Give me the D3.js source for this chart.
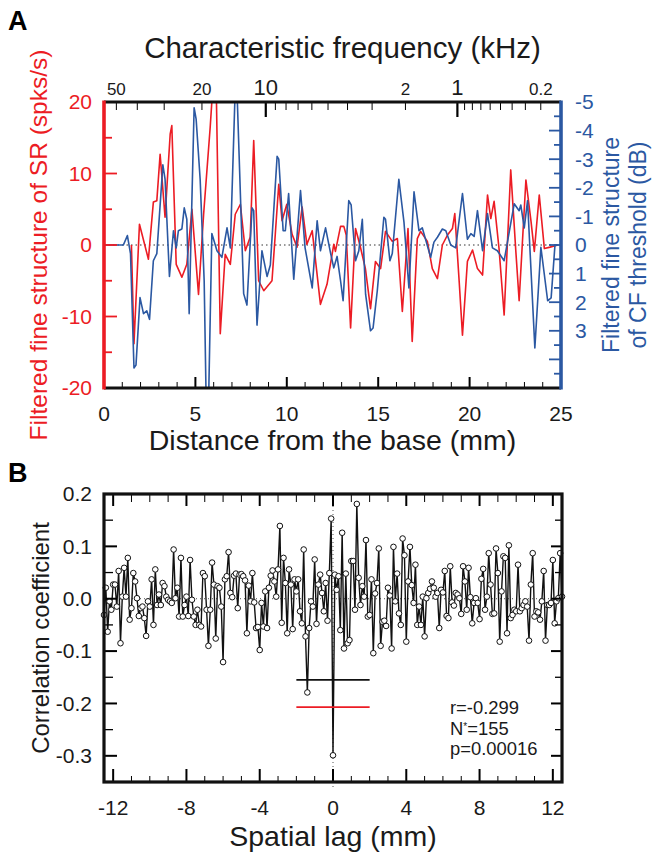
<!DOCTYPE html>
<html><head><meta charset="utf-8">
<script src="https://cdn.jsdelivr.net/npm/d3@7"></script>
<style>body{margin:0;background:#fff}svg text{font-family:"Liberation Sans",Arial,Helvetica,sans-serif}</style>
</head><body><svg id="c" width="656" height="853"></svg>
<script>
// ---------- Panel A data ----------
const redMm  = [1.50,1.64,1.94,2.43,2.70,2.89,3.07,3.34,3.62,3.71,3.95,4.26,4.53,4.81,5.17,5.45,5.81,6.00,6.14,6.36,6.63,6.91,7.18,7.46,7.73,8.00,8.19,8.46,8.74,9.19,9.37,9.56,9.74,10.0,10.29,10.56,10.84,11.1,11.39,11.84,12.2,12.57,12.66,12.94,13.12,13.25,13.49,13.76,14.0,14.3,14.58,14.85,15.13,15.4,15.77,16.05,16.32,16.63,16.86,17.14,17.32,17.69,17.96,18.24,18.51,18.79,19.06,19.19,19.43,19.61,19.88,20.16,20.43,20.71,20.98,21.16,21.34,21.61,21.89,22.25,22.53,22.71,23.08,23.36,23.54,23.81,24.09,24.4,24.82];
const redVal = [0,-13.8,2.9,-2.0,6.0,6.2,12.7,3.9,15.5,16.7,-2.7,-4.5,-2.7,5.0,-6.9,4.3,16.5,24,22,-12.4,-1.3,-2.7,4.3,5.7,-0.8,1.1,14.6,-5.0,-6.4,-5.0,1.5,8.5,3.4,5.7,1.5,-0.3,5.3,0.1,2.0,-8.3,-5.5,0.1,-0.9,2.6,2.6,1.4,-11.6,2.3,0,-3.3,-8.9,-2.3,-3.3,1.9,0.5,0.9,-9.3,2.3,-13.5,0.9,1.9,0.5,-3.3,-4.7,0,1.4,2.3,4.4,-5.1,-12.6,-2.3,-0.7,-3.3,-4.2,7.0,3.7,6.1,-0.5,-9.8,10.5,-0.9,-7.8,9.1,3.3,-0.9,7.0,-0.5,-0.3,0];
const blueMm = [0,1.06,1.28,1.45,1.64,1.75,1.97,2.16,2.34,2.49,2.70,2.89,3.22,3.34,3.58,3.80,3.95,4.07,4.26,4.39,4.53,4.66,4.93,5.04,5.26,5.48,5.59,5.72,5.90,6.18,6.45,6.73,6.91,7.18,7.27,7.64,7.82,8.1,8.19,8.37,8.64,8.92,9.1,9.47,9.56,9.80,9.92,10.1,10.38,10.75,11.0,11.39,11.66,11.84,12.12,12.4,12.57,12.75,12.94,13.08,13.39,13.52,13.76,13.94,14.13,14.31,14.58,14.72,14.95,15.31,15.4,15.64,15.77,16.13,16.41,16.68,16.96,17.23,17.41,17.87,18.05,18.24,18.51,18.7,18.97,19.24,19.61,19.88,20.07,20.25,20.43,20.71,20.98,21.25,21.52,21.89,22.44,22.71,22.8,22.99,23.17,23.57,23.9,24.27,24.46,24.67,24.82];
const blueDb = [0,0,-0.33,0.3,4.3,4.2,1.84,2.4,2.3,2.6,0.55,0.3,-2.8,-2.3,1.1,-0.5,0.1,-0.5,-0.56,-1.3,-0.9,2.4,-4.8,-4.4,-2.3,1.25,5.5,5.5,-0.4,0.2,0.43,-0.6,0.1,-5.5,-5.5,1.7,2.1,-1.3,-1.2,2.8,0.2,1.1,0.7,-3.1,-3.0,-0.5,-0.5,-1.8,1.2,-1.9,0.1,1.5,-0.85,0.2,-0.6,0.3,0.8,0.4,1.25,1.95,-1.55,-1.4,0.55,0.2,-0.9,1.72,3.0,2.9,1.6,-0.97,-0.9,0.55,0.3,-2.3,-0.8,1.5,-1.86,-0.5,-0.6,0.43,-0.1,-0.27,-0.56,-0.5,0,0.1,-1.8,-0.2,-0.4,-0.3,-1.2,0.2,-1.1,0.1,0.2,0.55,-1.44,-1.2,-1.4,-0.6,-1.55,3.6,0.08,1.95,1.85,0,0];
const distTicks = [0,5,10,15,20,25];
const redTicks  = [20,10,0,-10,-20];
const blueTicks = [-5,-4,-3,-2,-1,0,1,2,3];
const freqMajor = [10,1];
const freqMinor = [50,40,30,20,9,8,7,6,5,4,3,2,0.9,0.8,0.7,0.6,0.5,0.4,0.3,0.2];
const freqSmallLabels = [50,20,2,0.2];

// ---------- Panel B data ----------
const lagStart = -12.5, lagStep = 0.1;
const corrLeft = [-0.031,0.021,-0.063,-0.005,-0.021,0.027,0.027,-0.015,0.053,-0.085,
0.004,0.059,0.004,0.078,-0.040,-0.018,0.049,0.033,0.001,-0.033,
-0.018,-0.015,-0.037,-0.071,-0.005,-0.015,0.037,-0.050,0.056,-0.012,
0.008,-0.012,0.030,0.024,0.004,-0.002,-0.005,-0.008,0.094,0.001,
0.021,-0.034,0.078,-0.034,-0.012,0.004,-0.033,0.074,-0.002,-0.034,
-0.050,-0.021,-0.050,-0.053,0.049,0.043,-0.021,-0.090,-0.021,0.069,
0.027,-0.076,0.024,0.021,-0.015,-0.121,0.037,0.043,0.089,0.011,
0.003,0.044,0.048,-0.018,0.046,0.047,0.043,0.035,-0.066,0.025,
-0.005,0.049,-0.007,-0.056,-0.054,-0.098,-0.008,-0.053,0.014,-0.056,
0.021,0.044,0.054,0.033,0.004,0.056,0.139,-0.046,0.078,0.030,
-0.066,0.056,0.027,-0.058,0.037,0.014,0.037,-0.024,-0.047,0.094,
-0.072,-0.179,-0.056,-0.005,-0.015,0.075,-0.048,0.027,0.046,0.011,
-0.024,0.030,-0.042,0.049,0.153];
const corrZero = -0.299;
const corrRight = [0.046,0.017,0.043,-0.060,0.126,-0.095,0.048,-0.085,-0.079,0.072,
0.072,-0.021,0.181,0.040,-0.012,0.024,0.004,0.112,-0.034,-0.031,
0.037,-0.104,0.010,0.030,0.096,-0.090,-0.044,-0.042,-0.052,0.021,
0.006,-0.095,0.099,-0.005,0.048,-0.028,-0.050,0.115,0.083,-0.082,
0.033,0.099,0.026,-0.008,0.065,-0.050,-0.015,-0.050,0.004,-0.072,
0.001,0.011,0.019,0.033,0.021,0.004,0.011,-0.056,0.017,0.012,
0.053,-0.033,-0.037,0.062,-0.007,-0.013,0.011,0.008,0.001,-0.029,
0.062,0.033,-0.021,0.059,0.003,-0.047,-0.008,0.001,-0.008,-0.039,
0.038,0.057,-0.021,0.004,0.087,0.027,-0.029,-0.028,0.096,0.049,
-0.082,0.014,0.081,0.078,-0.066,0.102,-0.037,-0.031,-0.021,-0.024,
0.065,-0.024,-0.018,-0.012,-0.005,-0.015,-0.080,0.027,0.087,-0.034,
-0.024,-0.026,-0.040,-0.005,0.053,-0.080,-0.012,-0.012,-0.008,0.074,
-0.047,-0.005,0.001,0.087,0.004];
const lagTicks  = [-12,-8,-4,0,4,8,12];
const corrTicks = [0.2,0.1,0,-0.1,-0.2,-0.3];
const ciLag = [-2,2];
const ciBlack = -0.155, ciRed = -0.207;
const statsLines = ["r=-0.299","N*=155","p=0.00016"];

// ---------- drawing ----------
const svg = d3.select("#c");
const RED = "#ec1c24", BLUE = "#2b58a2", TXT = "#1a1a1a";

// ===== Panel A =====
const A = {l:104, r:561, t:102, b:388};
const x = d3.scaleLinear([0,25],[A.l,A.r]);
const yR = d3.scaleLinear([-20,20],[A.b,A.t]);
const yB = d3.scaleLinear([5,-5],[A.b,A.t]);
const gw = f => 25*(1 - Math.log10(f/0.456 + 0.8)/2.1); // Greenwood map (cat)

svg.append("defs").append("clipPath").attr("id","clipA")
  .append("rect").attr("x",A.l).attr("y",A.t).attr("width",A.r-A.l).attr("height",A.b-A.t);

svg.append("line").attr("x1",A.l).attr("x2",A.r).attr("y1",yR(0)).attr("y2",yR(0))
  .attr("stroke","#333").attr("stroke-width",1).attr("stroke-dasharray","1.5,3");

const gA = svg.append("g").attr("clip-path","url(#clipA)");
gA.append("path").attr("d", d3.line().x(d=>x(d[0])).y(d=>yR(d[1]))(d3.zip(redMm,redVal)))
  .attr("fill","none").attr("stroke",RED).attr("stroke-width",1.6).attr("stroke-linejoin","round");
gA.append("path").attr("d", d3.line().x(d=>x(d[0])).y(d=>yB(d[1]))(d3.zip(blueMm,blueDb)))
  .attr("fill","none").attr("stroke",BLUE).attr("stroke-width",1.6).attr("stroke-linejoin","round");

// bottom ticks
d3.range(0,26).forEach(v=>{
  const L = v%5===0 ? 11 : 6;
  svg.append("line").attr("x1",x(v)).attr("x2",x(v)).attr("y1",A.b).attr("y2",A.b-L)
    .attr("stroke","#000").attr("stroke-width",v%5===0?2:1);
});
// top ticks
freqMinor.forEach(f=>{
  svg.append("line").attr("x1",x(gw(f))).attr("x2",x(gw(f))).attr("y1",A.t).attr("y2",A.t+8)
    .attr("stroke","#000").attr("stroke-width",1);
});
freqMajor.forEach(f=>{
  svg.append("line").attr("x1",x(gw(f))).attr("x2",x(gw(f))).attr("y1",A.t).attr("y2",A.t+15)
    .attr("stroke","#000").attr("stroke-width",2.2);
});
// left red ticks
d3.range(-20,21,5).forEach(v=>{
  const L = v%10===0 ? 13 : 8;
  svg.append("line").attr("x1",A.l).attr("x2",A.l+L).attr("y1",yR(v)).attr("y2",yR(v))
    .attr("stroke",RED).attr("stroke-width",1.8);
});
// right blue ticks
d3.range(-5,5.01,0.5).forEach(v=>{
  const L = Number.isInteger(v) ? 12 : 7;
  svg.append("line").attr("x1",A.r).attr("x2",A.r-L).attr("y1",yB(v)).attr("y2",yB(v))
    .attr("stroke",BLUE).attr("stroke-width",1.8);
});
// frame lines
svg.append("line").attr("x1",A.l).attr("x2",A.r).attr("y1",A.t).attr("y2",A.t).attr("stroke","#111").attr("stroke-width",3.2);
svg.append("line").attr("x1",A.l).attr("x2",A.r).attr("y1",A.b).attr("y2",A.b).attr("stroke","#111").attr("stroke-width",3.2);
svg.append("line").attr("x1",A.l).attr("x2",A.l).attr("y1",A.t-1.6).attr("y2",A.b+1.6).attr("stroke",RED).attr("stroke-width",3.6);
svg.append("line").attr("x1",A.r).attr("x2",A.r).attr("y1",A.t-1.6).attr("y2",A.b+1.6).attr("stroke",BLUE).attr("stroke-width",3.6);

// tick labels A
distTicks.forEach(v=>svg.append("text").attr("x",x(v)).attr("y",A.b+33).attr("text-anchor","middle")
  .attr("font-size",21).attr("fill",TXT).text(v));
redTicks.forEach(v=>svg.append("text").attr("x",A.l-12).attr("y",yR(v)).attr("dy","0.35em").attr("text-anchor","end")
  .attr("font-size",21).attr("fill",RED).text(v));
blueTicks.forEach(v=>svg.append("text").attr("x",A.r+14).attr("y",yB(v)).attr("dy","0.35em").attr("text-anchor","start")
  .attr("font-size",21).attr("fill",BLUE).text(v));
freqSmallLabels.forEach(f=>svg.append("text").attr("x",x(gw(f))).attr("y",A.t-7).attr("text-anchor","middle")
  .attr("font-size",17).attr("fill",TXT).text(f));
freqMajor.forEach(f=>svg.append("text").attr("x",x(gw(f))).attr("y",A.t-7).attr("text-anchor","middle")
  .attr("font-size",22).attr("fill",TXT).text(f));

// titles A
svg.append("text").attr("x",8).attr("y",30).attr("font-size",27).attr("font-weight","bold").attr("fill","#000").text("A");
svg.append("text").attr("x",(A.l+A.r)/2+10).attr("y",58).attr("text-anchor","middle").attr("font-size",29.5).attr("fill",TXT)
  .text("Characteristic frequency (kHz)");
svg.append("text").attr("x",(A.l+A.r)/2).attr("y",450).attr("text-anchor","middle").attr("font-size",28.5).attr("fill",TXT)
  .text("Distance from the base (mm)");
svg.append("text").attr("transform",`translate(47,${(A.t+A.b)/2}) rotate(-90)`).attr("text-anchor","middle")
  .attr("font-size",24.5).attr("fill",RED).text("Filtered fine structure of SR (spks/s)");
svg.append("text").attr("transform",`translate(619,${(A.t+A.b)/2}) rotate(-90)`).attr("text-anchor","middle")
  .attr("font-size",23).attr("fill",BLUE).text("Filtered fine structure");
svg.append("text").attr("transform",`translate(646,${(A.t+A.b)/2}) rotate(-90)`).attr("text-anchor","middle")
  .attr("font-size",23).attr("fill",BLUE).text("of CF threshold (dB)");

// ===== Panel B =====
const B = {l:104, r:562, t:494, b:782};
const xB = d3.scaleLinear([-12.5,12.5],[B.l,B.r]);
const yC = d3.scaleLinear([-0.35,0.2],[B.b,B.t]);
const corrVals = corrLeft.concat([corrZero], corrRight);
const pts = corrVals.map((v,i)=>[lagStart + i*lagStep, v]);

svg.append("line").attr("x1",B.l).attr("x2",B.r).attr("y1",yC(0)).attr("y2",yC(0))
  .attr("stroke","#555").attr("stroke-width",1).attr("stroke-dasharray","1,3");
svg.append("line").attr("x1",xB(0)).attr("x2",xB(0)).attr("y1",B.t).attr("y2",B.b+8)
  .attr("stroke","#555").attr("stroke-width",1).attr("stroke-dasharray","1,3");

svg.append("path").attr("d", d3.line().x(d=>xB(d[0])).y(d=>yC(d[1]))(pts))
  .attr("fill","none").attr("stroke","#111").attr("stroke-width",1.4).attr("stroke-linejoin","round");
svg.append("g").selectAll("circle").data(pts).join("circle")
  .attr("cx",d=>xB(d[0])).attr("cy",d=>yC(d[1])).attr("r",2.8)
  .attr("fill","#fff").attr("stroke","#111").attr("stroke-width",1);

svg.append("line").attr("x1",xB(ciLag[0])).attr("x2",xB(ciLag[1])).attr("y1",yC(ciBlack)).attr("y2",yC(ciBlack))
  .attr("stroke","#111").attr("stroke-width",1.6);
svg.append("line").attr("x1",xB(ciLag[0])).attr("x2",xB(ciLag[1])).attr("y1",yC(ciRed)).attr("y2",yC(ciRed))
  .attr("stroke",RED).attr("stroke-width",1.6);

// ticks B
d3.range(-12,13).forEach(v=>{
  const maj = v%4===0;
  svg.append("line").attr("x1",xB(v)).attr("x2",xB(v)).attr("y1",B.b).attr("y2",B.b-(maj?13:6))
    .attr("stroke","#000").attr("stroke-width",maj?2:1);
  svg.append("line").attr("x1",xB(v)).attr("x2",xB(v)).attr("y1",B.t).attr("y2",B.t+(maj?12:8))
    .attr("stroke","#000").attr("stroke-width",maj?2:1);
});
d3.range(-7,5).forEach(k=>{
  const v = k*0.05, maj = k%2===0;
  svg.append("line").attr("x1",B.l).attr("x2",B.l+(maj?13:9)).attr("y1",yC(v)).attr("y2",yC(v))
    .attr("stroke","#000").attr("stroke-width",maj?2:1.3);
  svg.append("line").attr("x1",B.r).attr("x2",B.r-(maj?11:7)).attr("y1",yC(v)).attr("y2",yC(v))
    .attr("stroke","#000").attr("stroke-width",maj?2:1.3);
});
svg.append("rect").attr("x",B.l).attr("y",B.t).attr("width",B.r-B.l).attr("height",B.b-B.t)
  .attr("fill","none").attr("stroke","#111").attr("stroke-width",3.2);

lagTicks.forEach(v=>svg.append("text").attr("x",xB(v)).attr("y",B.b+33).attr("text-anchor","middle")
  .attr("font-size",21).attr("fill",TXT).text(v));
corrTicks.forEach(v=>svg.append("text").attr("x",B.l-12).attr("y",yC(v)).attr("dy","0.35em").attr("text-anchor","end")
  .attr("font-size",21).attr("fill",TXT).text(d3.format(".1f")(v).replace("−","-")));

svg.append("text").attr("x",8).attr("y",482).attr("font-size",27).attr("font-weight","bold").attr("fill","#000").text("B");
svg.append("text").attr("x",(B.l+B.r)/2).attr("y",846).attr("text-anchor","middle").attr("font-size",28.5).attr("fill",TXT)
  .text("Spatial lag (mm)");
svg.append("text").attr("transform",`translate(49,${(B.t+B.b)/2}) rotate(-90)`).attr("text-anchor","middle")
  .attr("font-size",24).attr("fill",TXT).text("Correlation coefficient");

// stats
const st = svg.append("g").attr("font-size",18.4).attr("fill",TXT);
st.append("text").attr("x",450).attr("y",714).text(statsLines[0]);
const nT = st.append("text").attr("x",450).attr("y",735);
nT.append("tspan").text(statsLines[1].slice(0,1));
nT.append("tspan").attr("dy",-5).attr("font-size",10).text("*");
nT.append("tspan").attr("dy",5).text(statsLines[1].slice(2));
st.append("text").attr("x",450).attr("y",755).text(statsLines[2]);
</script></body></html>
